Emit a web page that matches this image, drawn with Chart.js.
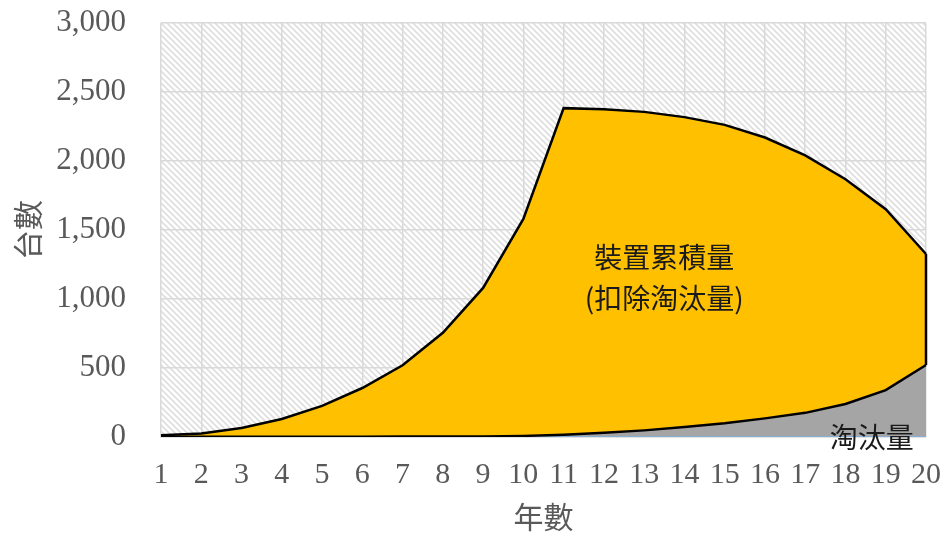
<!DOCTYPE html>
<html>
<head>
<meta charset="utf-8">
<script src="https://cdn.jsdelivr.net/npm/chart.js@4.4.0/dist/chart.umd.min.js"></script>
<style>
  html, body { margin: 0; padding: 0; background: #ffffff; }
</style>
</head>
<body>
<canvas id="areaChart" width="946" height="538"></canvas>
<script>
// 年數 1..20
const years = ['1','2','3','4','5','6','7','8','9','10','11','12','13','14','15','16','17','18','19','20'];
// 淘汰量
const retired = [1, 1, 1, 1, 2, 2, 3, 3, 4, 8, 17, 30, 48, 72, 99, 135, 175, 239, 340, 522];
// 裝置累積量 (扣除淘汰量), stacked on top of 淘汰量
const remaining = [11, 24, 64, 129, 223, 353, 517, 752, 1076, 1572, 2366, 2345, 2308, 2246, 2163, 2035, 1865, 1629, 1311, 804];
// zero line drawn in blue along the axis
const baseline = [0, 0, 0, 0, 0, 0, 0, 0, 0, 0, 0, 0, 0, 0, 0, 0, 0, 0, 0, 0];
const yTicks = [0, 500, 1000, 1500, 2000, 2500, 3000];

const cjk = '"Noto Sans CJK TC", "Noto Sans CJK SC", sans-serif';
const serif = '"Liberation Serif", "DejaVu Serif", serif';

// diagonal hatch for the plot area
function makeHatch() {
    const c = document.createElement('canvas');
    c.width = 6; c.height = 6;
    const g = c.getContext('2d');
    g.fillStyle = '#ffffff';
    g.fillRect(0, 0, 6, 6);
    g.strokeStyle = '#dedede';
    g.lineWidth = 1.6;
    g.beginPath();
    g.moveTo(-1, -1); g.lineTo(7, 7);
    g.moveTo(-7, -1); g.lineTo(1, 7);
    g.moveTo(5, -1); g.lineTo(13, 7);
    g.stroke();
    return g.createPattern(c, 'repeat');
}

const hatchBg = {
    id: 'hatchBg',
    beforeDraw(chart) {
        const { ctx, chartArea: a } = chart;
        ctx.save();
        ctx.fillStyle = makeHatch();
        ctx.fillRect(a.left, a.top, a.right - a.left, a.bottom - a.top);
        ctx.restore();
    }
};

const labels = {
    id: 'labels',
    afterDatasetsDraw(chart) {
        const { ctx, scales } = chart;
        const x = scales.x, y = scales.y;
        // right edge of the stacked area
        const g = chart.getDatasetMeta(0).data;
        const t = chart.getDatasetMeta(1).data;
        const last = g.length - 1;
        ctx.save();
        ctx.strokeStyle = '#000000';
        ctx.lineWidth = 2.5;
        ctx.beginPath();
        ctx.moveTo(t[last].x, t[last].y);
        ctx.lineTo(g[last].x, g[last].y);
        ctx.stroke();

        ctx.fillStyle = '#1a1a1a';
        ctx.textAlign = 'center';
        ctx.textBaseline = 'middle';
        ctx.font = '28px ' + cjk;
        ctx.fillText('裝置累積量', x.getPixelForValue(12.5), y.getPixelForValue(1300));
        ctx.fillText('(扣除淘汰量)', x.getPixelForValue(12.5), y.getPixelForValue(1005));
        ctx.fillText('淘汰量', x.getPixelForValue(17.65), y.getPixelForValue(0));
        ctx.restore();
    }
};

new Chart(document.getElementById('areaChart'), {
    type: 'line',
    data: {
        labels: years,
        datasets: [{
            label: '淘汰量',
            data: retired,
            stack: 'a',
            fill: 'origin',
            backgroundColor: '#a5a5a5',
            borderColor: '#000000',
            borderWidth: 2.5,
            pointRadius: 0,
            tension: 0
        }, {
            label: '裝置累積量(扣除淘汰量)',
            data: remaining,
            stack: 'a',
            fill: '-1',
            backgroundColor: '#ffc000',
            borderColor: '#000000',
            borderWidth: 2.5,
            pointRadius: 0,
            tension: 0
        }, {
            label: '',
            data: baseline,
            stack: 'b',
            fill: false,
            borderColor: '#7fb2e5',
            borderWidth: 1.5,
            pointRadius: 0
        }]
    },
    options: {
        responsive: false,
        animation: false,
        layout: { padding: { top: 23, right: 20, left: 0, bottom: 0 } },
        plugins: {
            legend: { display: false },
            tooltip: { enabled: false },
            filler: { drawTime: 'beforeDatasetsDraw' }
        },
        scales: {
            x: {
                offset: false,
                grid: { color: '#d9d9d9', lineWidth: 1.5, drawTicks: false },
                border: { color: '#d9d9d9', width: 1.5 },
                ticks: {
                    color: '#595959',
                    font: { family: serif, size: 30 },
                    padding: 20,
                    maxRotation: 0,
                    autoSkip: false
                },
                title: {
                    display: true,
                    text: '年數',
                    color: '#595959',
                    font: { family: cjk, size: 30 },
                    padding: { top: 0, bottom: 3 }
                },
                afterFit(scale) {
                    scale.height = 101;
                    scale.paddingLeft = 0;
                    scale.paddingRight = 0;
                }
            },
            y: {
                stacked: true,
                min: 0,
                max: 3000,
                afterBuildTicks(scale) { scale.ticks = yTicks.map(v => ({ value: v })); },
                grid: { color: '#d9d9d9', lineWidth: 1.5, drawTicks: false },
                border: { display: false },
                ticks: {
                    color: '#595959',
                    font: { family: serif, size: 31 },
                    padding: 35,
                    callback: v => v.toLocaleString('en-US')
                },
                title: {
                    display: true,
                    text: '台數',
                    color: '#595959',
                    font: { family: cjk, size: 30 },
                    padding: { top: 10, bottom: 0 }
                },
                afterFit(scale) {
                    scale.width = 161;
                    scale.paddingTop = 0;
                    scale.paddingBottom = 0;
                }
            }
        }
    },
    plugins: [hatchBg, labels]
});
</script>
</body>
</html>
